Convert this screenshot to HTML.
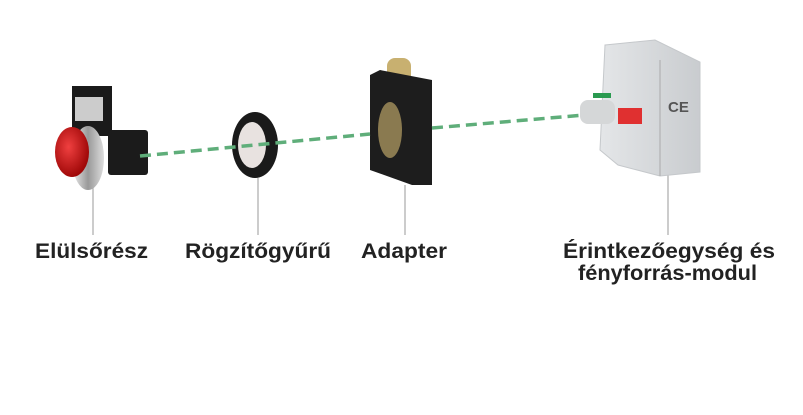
<!DOCTYPE html>
<html><head><meta charset="utf-8"><style>
html,body{margin:0;padding:0;background:#fff;width:803px;height:415px;overflow:hidden}
text{font-family:"Liberation Sans",Arial,sans-serif;font-weight:bold;font-size:21px;fill:#222}
</style></head><body>
<svg width="803" height="415" viewBox="0 0 803 415" xmlns="http://www.w3.org/2000/svg">
<defs>
<radialGradient id="red" cx="40%" cy="40%" r="60%"><stop offset="0" stop-color="#f04040"/><stop offset="1" stop-color="#a00808"/></radialGradient>
<linearGradient id="met" x1="0" x2="1"><stop offset="0" stop-color="#eee"/><stop offset="0.5" stop-color="#999"/><stop offset="1" stop-color="#ddd"/></linearGradient>
<linearGradient id="gray" x1="0" x2="1"><stop offset="0" stop-color="#e4e6e8"/><stop offset="1" stop-color="#c9cccf"/></linearGradient>
</defs>
<g stroke="#999" stroke-width="1">
<line x1="93" y1="185" x2="93" y2="235"/>
<line x1="258" y1="178" x2="258" y2="235"/>
<line x1="405" y1="185" x2="405" y2="235"/>
<line x1="668" y1="172" x2="668" y2="235"/>
</g>
<!-- front element -->
<rect x="72" y="86" width="40" height="50" fill="#1a1a1a"/>
<rect x="75" y="97" width="28" height="24" fill="#ccc"/>
<rect x="108" y="130" width="40" height="45" rx="3" fill="#1b1b1b"/>
<ellipse cx="88" cy="158" rx="16" ry="32" fill="url(#met)"/>
<ellipse cx="72" cy="152" rx="17" ry="25" fill="url(#red)"/>
<!-- ring -->
<ellipse cx="255" cy="145" rx="23" ry="33" fill="#1a1a1a"/>
<ellipse cx="252" cy="145" rx="14" ry="23" fill="#e8e2e0"/>
<!-- adapter -->
<rect x="387" y="58" width="24" height="40" rx="8" fill="#c8b070"/>
<path d="M370 75 L380 70 L432 80 L432 185 L412 185 L370 170 Z" fill="#1d1d1d"/>
<ellipse cx="390" cy="130" rx="12" ry="28" fill="#8a7a50"/>
<!-- dashed guide -->
<line x1="140" y1="156" x2="370" y2="134" stroke="#5fae7a" stroke-width="3.5" stroke-dasharray="11,6"/>
<line x1="432" y1="128" x2="585" y2="115" stroke="#5fae7a" stroke-width="3.5" stroke-dasharray="11,6"/>
<!-- module -->
<path d="M605 45 L655 40 L700 62 L700 172 L660 176 L618 165 L600 150 Z" fill="url(#gray)" stroke="#c5c8cb"/>
<line x1="660" y1="60" x2="660" y2="176" stroke="#aaa"/>
<rect x="580" y="100" width="35" height="24" rx="8" fill="#d5d7d8"/>
<rect x="593" y="93" width="18" height="5" fill="#2a9a50"/>
<rect x="618" y="108" width="24" height="16" fill="#e03030"/>
<text x="668" y="112" style="font-size:15px;fill:#555">CE</text>
<!-- labels -->
<text x="35" y="258" textLength="113" lengthAdjust="spacingAndGlyphs">Elülsőrész</text>
<text x="185" y="258" textLength="146" lengthAdjust="spacingAndGlyphs">Rögzítőgyűrű</text>
<text x="361" y="258" textLength="86" lengthAdjust="spacingAndGlyphs">Adapter</text>
<text x="563" y="258" textLength="212" lengthAdjust="spacingAndGlyphs">Érintkezőegység és</text>
<text x="578" y="280" textLength="179" lengthAdjust="spacingAndGlyphs">fényforrás-modul</text>
</svg>
</body></html>
